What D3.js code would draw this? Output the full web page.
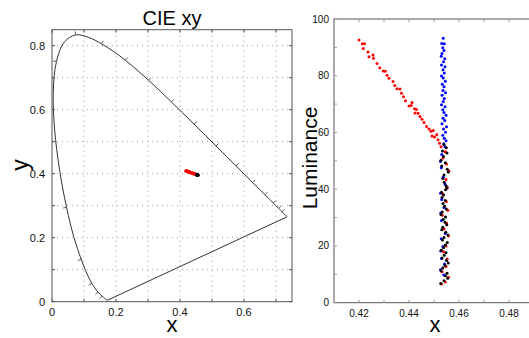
<!DOCTYPE html>
<html>
<head>
<meta charset="utf-8">
<script src="https://cdn.jsdelivr.net/npm/d3@7"></script>
<style>
  body { margin: 0; background: #fff; }
  svg { display: block; font-family: "Liberation Sans", Arial, sans-serif; }
</style>
</head>
<body>
<svg id="chart" width="529" height="338"></svg>
<script>
// CIE 1931 spectral locus (wavelength, x, y)
const locusNm = [380,390,400,410,420,430,440,450,460,470,475,480,485,490,495,500,505,510,515,520,525,530,535,540,545,550,555,560,565,570,575,580,585,590,595,600,605,610,615,620,625,630,635,640,650,660,670,680,700];
const locusX = [0.1741,0.1738,0.1733,0.1726,0.1714,0.1689,0.1644,0.1566,0.1440,0.1241,0.1096,0.0913,0.0687,0.0454,0.0235,0.0082,0.0039,0.0139,0.0389,0.0743,0.1142,0.1547,0.1929,0.2296,0.2658,0.3016,0.3373,0.3731,0.4087,0.4441,0.4788,0.5125,0.5448,0.5752,0.6029,0.6270,0.6482,0.6658,0.6801,0.6915,0.7006,0.7079,0.7140,0.7190,0.7260,0.7300,0.7320,0.7334,0.7347];
const locusY = [0.0050,0.0049,0.0048,0.0048,0.0051,0.0069,0.0109,0.0177,0.0297,0.0578,0.0868,0.1327,0.2007,0.2950,0.4127,0.5384,0.6548,0.7502,0.8120,0.8338,0.8262,0.8059,0.7816,0.7543,0.7243,0.6923,0.6589,0.6245,0.5896,0.5547,0.5202,0.4866,0.4544,0.4242,0.3965,0.3725,0.3514,0.3340,0.3197,0.3083,0.2993,0.2920,0.2859,0.2809,0.2740,0.2700,0.2680,0.2666,0.2653];
const markedNm = [450,460,470,480,490,510,520,530,540,550,560,570,580,590,600,610,620,630,640];

// chromaticity of the samples (x, y)
const chromRed = [[0.419,0.408],[0.421,0.409],[0.423,0.407],[0.426,0.406],[0.428,0.406],[0.431,0.404],[0.434,0.403],[0.437,0.402],[0.440,0.401],[0.443,0.400],[0.446,0.399],[0.449,0.398],[0.452,0.397],[0.454,0.396]];
const chromBlue = [[0.453,0.397],[0.454,0.396],[0.455,0.396]];
const chromBlack = [[0.453,0.396],[0.454,0.395],[0.455,0.396],[0.456,0.395],[0.454,0.397]];

// luminance vs x (x, L)
const redPts = [[0.4200,92.6],[0.4213,91.3],[0.4222,91.3],[0.4217,89.6],[0.4236,88.4],[0.4240,86.7],[0.4256,87.3],[0.4258,86.2],[0.4272,84.3],[0.4283,82.8],[0.4297,81.7],[0.4305,81.6],[0.4312,80.2],[0.4320,79.1],[0.4336,78.0],[0.4343,76.6],[0.4352,75.4],[0.4364,75.3],[0.4370,73.8],[0.4378,72.6],[0.4386,71.2],[0.4400,69.3],[0.4409,69.5],[0.4412,70.6],[0.4422,68.4],[0.4430,68.1],[0.4424,66.9],[0.4436,66.8],[0.4444,65.6],[0.4452,64.7],[0.4460,63.5],[0.4470,62.1],[0.4480,61.2],[0.4488,60.4],[0.4497,60.7],[0.4492,58.8],[0.4502,58.4],[0.4511,59.2],[0.4516,57.4],[0.4522,56.2],[0.4528,55.0],
  [0.4545,53.2],[0.4536,51.0],[0.4550,48.9],[0.4560,46.4],[0.4548,43.4],[0.4553,40.7],[0.4535,38.4],[0.4549,35.7],[0.4555,32.6],[0.4533,30.8],[0.4550,28.0],[0.4540,26.0],[0.4558,23.5],[0.4548,20.0],[0.4538,18.0],[0.4553,15.4],[0.4548,12.8],[0.4532,10.9],[0.4558,9.0],[0.4545,7.3],[0.4530,6.6]];
const bluePts = [[0.4537,93.2],[0.4531,91.4],[0.4541,91.3],[0.4535,89.9],[0.4540,88.9],[0.4532,87.8],[0.4529,86.9],[0.4543,86.0],[0.4538,84.9],[0.4530,83.8],[0.4544,83.2],[0.4536,82.1],[0.4541,81.0],[0.4530,79.9],[0.4537,79.2],[0.4545,78.1],[0.4533,77.0],[0.4540,76.1],[0.4536,74.8],[0.4546,74.0],[0.4532,73.1],[0.4541,72.0],[0.4537,70.9],[0.4530,69.8],[0.4544,69.1],[0.4535,68.0],[0.4540,67.0],[0.4548,66.1],[0.4536,65.0],[0.4543,64.2],[0.4532,63.1],[0.4550,62.0],[0.4538,61.2],[0.4546,60.1],[0.4535,59.0],[0.4541,58.0],[0.4548,57.1],[0.4539,56.0],[0.4544,55.0],
  [0.4531,52.2],[0.4526,49.8],[0.4529,47.6],[0.4537,44.2],[0.4544,41.8],[0.4526,38.6],[0.4531,36.4],[0.4540,33.6],[0.4527,31.6],[0.4530,29.0],[0.4545,24.4],[0.4529,22.5],[0.4536,19.8],[0.4527,18.2],[0.4530,15.6],[0.4542,13.6],[0.4526,11.6],[0.4539,9.8]];
const blackPts = [[0.4540,55.8],[0.4549,54.6],[0.4534,53.5],[0.4552,52.8],[0.4538,51.5],[0.4528,50.2],[0.4545,49.3],[0.4531,48.2],[0.4553,47.0],[0.4557,46.1],[0.4540,45.0],[0.4535,43.8],[0.4541,42.5],[0.4548,41.2],[0.4551,40.3],[0.4546,39.8],[0.4530,38.9],[0.4538,38.0],[0.4532,37.1],[0.4545,36.0],[0.4536,35.0],[0.4542,34.0],[0.4549,33.0],[0.4533,32.0],[0.4528,31.1],[0.4546,30.2],[0.4537,29.3],[0.4544,28.4],[0.4551,27.5],[0.4535,26.6],[0.4531,25.7],[0.4547,24.8],[0.4556,23.9],[0.4540,23.0],[0.4534,22.1],[0.4553,21.2],[0.4545,20.3],[0.4538,19.4],[0.4529,18.5],[0.4548,17.6],[0.4541,16.7],[0.4532,15.8],[0.4550,14.9],[0.4557,14.0],[0.4544,13.1],[0.4535,12.2],[0.4528,11.3],[0.4552,10.4],[0.4546,9.5],[0.4555,8.6],[0.4540,7.7],[0.4527,6.8]];

const xTicksL = [0, 0.2, 0.4, 0.6];
const yTicksL = [0, 0.2, 0.4, 0.6, 0.8];
const xTicksR = [0.42, 0.44, 0.46, 0.48];
const yTicksR = [0, 20, 40, 60, 80, 100];

const svg = d3.select("#chart");
const frameCol = "#555";

// ---------- left: CIE xy ----------
const xL = d3.scaleLinear().domain([0, 0.75]).range([52, 292]);
const yL = d3.scaleLinear().domain([0, 0.85]).range([301.7, 29.7]);
const left = svg.append("g");

// dotted grid
left.selectAll(".gx").data(d3.range(1, 8).map(i => i / 10)).enter().append("line")
  .attr("x1", d => xL(d)).attr("x2", d => xL(d))
  .attr("y1", yL(0)).attr("y2", yL(0.85))
  .attr("stroke", "#999").attr("stroke-width", 1).attr("stroke-dasharray", "1,4");
left.selectAll(".gy").data(d3.range(1, 9).map(i => i / 10)).enter().append("line")
  .attr("x1", xL(0)).attr("x2", xL(0.75))
  .attr("y1", d => yL(d)).attr("y2", d => yL(d))
  .attr("stroke", "#999").attr("stroke-width", 1).attr("stroke-dasharray", "1,4");

// locus (smooth), closed by the purple line
const locus = locusX.map((x, i) => [x, locusY[i]]);
left.append("path")
  .datum(locus)
  .attr("d", d3.line().x(d => xL(d[0])).y(d => yL(d[1])).curve(d3.curveCatmullRom))
  .attr("fill", "none").attr("stroke", "#333").attr("stroke-width", 1);
left.append("line")
  .attr("x1", xL(locus[locus.length - 1][0])).attr("y1", yL(locus[locus.length - 1][1]))
  .attr("x2", xL(locus[0][0])).attr("y2", yL(locus[0][1]))
  .attr("stroke", "#333").attr("stroke-width", 1);

// wavelength ticks, pointing outward
const cx = xL(0.33), cy = yL(0.33);
markedNm.forEach(nm => {
  const i = locusNm.indexOf(nm);
  const a = locus[Math.max(0, i - 1)], b = locus[Math.min(locus.length - 1, i + 1)];
  const px = xL(locus[i][0]), py = yL(locus[i][1]);
  let dx = xL(b[0]) - xL(a[0]), dy = yL(b[1]) - yL(a[1]);
  const len = Math.hypot(dx, dy);
  let nx = -dy / len, ny = dx / len;
  if ((px - cx) * nx + (py - cy) * ny < 0) { nx = -nx; ny = -ny; }
  left.append("line")
    .attr("x1", px).attr("y1", py).attr("x2", px + nx * 3.5).attr("y2", py + ny * 3.5)
    .attr("stroke", "#333").attr("stroke-width", 0.8);
});

// samples
left.selectAll(".cr").data(chromRed).enter().append("circle")
  .attr("cx", d => xL(d[0])).attr("cy", d => yL(d[1])).attr("r", 1.8).attr("fill", "#f00");
left.selectAll(".cb").data(chromBlue).enter().append("circle")
  .attr("cx", d => xL(d[0])).attr("cy", d => yL(d[1])).attr("r", 1.8).attr("fill", "#00f");
left.selectAll(".ck").data(chromBlack).enter().append("circle")
  .attr("cx", d => xL(d[0])).attr("cy", d => yL(d[1])).attr("r", 1.8).attr("fill", "#000");

// frame + ticks
left.append("rect").attr("x", xL(0)).attr("y", yL(0.85))
  .attr("width", xL(0.75) - xL(0)).attr("height", yL(0) - yL(0.85))
  .attr("fill", "none").attr("stroke", frameCol).attr("stroke-width", 1);
d3.range(0, 8).map(i => i / 10).forEach(v => {
  left.append("line").attr("x1", xL(v)).attr("x2", xL(v)).attr("y1", yL(0)).attr("y2", yL(0) - 3).attr("stroke", frameCol);
  left.append("line").attr("x1", xL(v)).attr("x2", xL(v)).attr("y1", yL(0.85)).attr("y2", yL(0.85) + 3).attr("stroke", frameCol);
});
d3.range(0, 9).map(i => i / 10).forEach(v => {
  left.append("line").attr("x1", xL(0)).attr("x2", xL(0) + 3).attr("y1", yL(v)).attr("y2", yL(v)).attr("stroke", frameCol);
  left.append("line").attr("x1", xL(0.75)).attr("x2", xL(0.75) - 3).attr("y1", yL(v)).attr("y2", yL(v)).attr("stroke", frameCol);
});
left.selectAll(".xl").data(xTicksL).enter().append("text")
  .attr("x", d => xL(d)).attr("y", 316).attr("text-anchor", "middle")
  .attr("font-size", 11).attr("fill", "#111").text(d => d3.format("")(d));
left.selectAll(".yl").data(yTicksL).enter().append("text")
  .attr("x", 45).attr("y", d => yL(d) + 4).attr("text-anchor", "end")
  .attr("font-size", 11).attr("fill", "#111").text(d => d3.format("")(d));

left.append("text").attr("x", 172).attr("y", 25).attr("text-anchor", "middle")
  .attr("font-size", 20).text("CIE xy");
left.append("text").attr("x", 172).attr("y", 332).attr("text-anchor", "middle")
  .attr("font-size", 22).text("x");
left.append("text").attr("transform", "translate(28,165) rotate(-90)").attr("text-anchor", "middle")
  .attr("font-size", 23).text("y");

// ---------- right: luminance vs x ----------
const xR = d3.scaleLinear().domain([0.41, 0.49]).range([334, 534]);
const yR = d3.scaleLinear().domain([0, 100]).range([302.7, 19]);
const right = svg.append("g");

right.selectAll(".rr").data(redPts).enter().append("circle")
  .attr("cx", d => xR(d[0])).attr("cy", d => yR(d[1])).attr("r", 1.5).attr("fill", "#f00");
right.selectAll(".rb").data(bluePts).enter().append("circle")
  .attr("cx", d => xR(d[0])).attr("cy", d => yR(d[1])).attr("r", 1.5).attr("fill", "#00f");
right.selectAll(".rk").data(blackPts).enter().append("circle")
  .attr("cx", d => xR(d[0])).attr("cy", d => yR(d[1])).attr("r", 1.5).attr("fill", "#000");

right.append("rect").attr("x", xR(0.41)).attr("y", yR(100))
  .attr("width", xR(0.49) - xR(0.41)).attr("height", yR(0) - yR(100))
  .attr("fill", "none").attr("stroke", frameCol).attr("stroke-width", 1);
d3.range(0, 11).map(i => i * 10).forEach(v => {
  right.append("line").attr("x1", xR(0.41)).attr("x2", xR(0.41) + 3).attr("y1", yR(v)).attr("y2", yR(v)).attr("stroke", "#999");
});
d3.range(1, 8).map(i => 0.41 + i / 100).forEach(v => {
  right.append("line").attr("x1", xR(v)).attr("x2", xR(v)).attr("y1", yR(0)).attr("y2", yR(0) - 3).attr("stroke", "#999");
  right.append("line").attr("x1", xR(v)).attr("x2", xR(v)).attr("y1", yR(100)).attr("y2", yR(100) + 3).attr("stroke", "#999");
});
right.selectAll(".xr").data(xTicksR).enter().append("text")
  .attr("x", d => xR(d)).attr("y", 317).attr("text-anchor", "middle")
  .attr("font-size", 10).attr("fill", "#111").text(d => d3.format(".2f")(d));
right.selectAll(".yr").data(yTicksR).enter().append("text")
  .attr("x", 329).attr("y", d => yR(d) + 3.5).attr("text-anchor", "end")
  .attr("font-size", 10).attr("fill", "#111").text(d => d);

right.append("text").attr("x", 435).attr("y", 332).attr("text-anchor", "middle")
  .attr("font-size", 22).text("x");
right.append("text").attr("transform", "translate(317,158) rotate(-90)").attr("text-anchor", "middle")
  .attr("font-size", 21).text("Luminance");
</script>
</body>
</html>
